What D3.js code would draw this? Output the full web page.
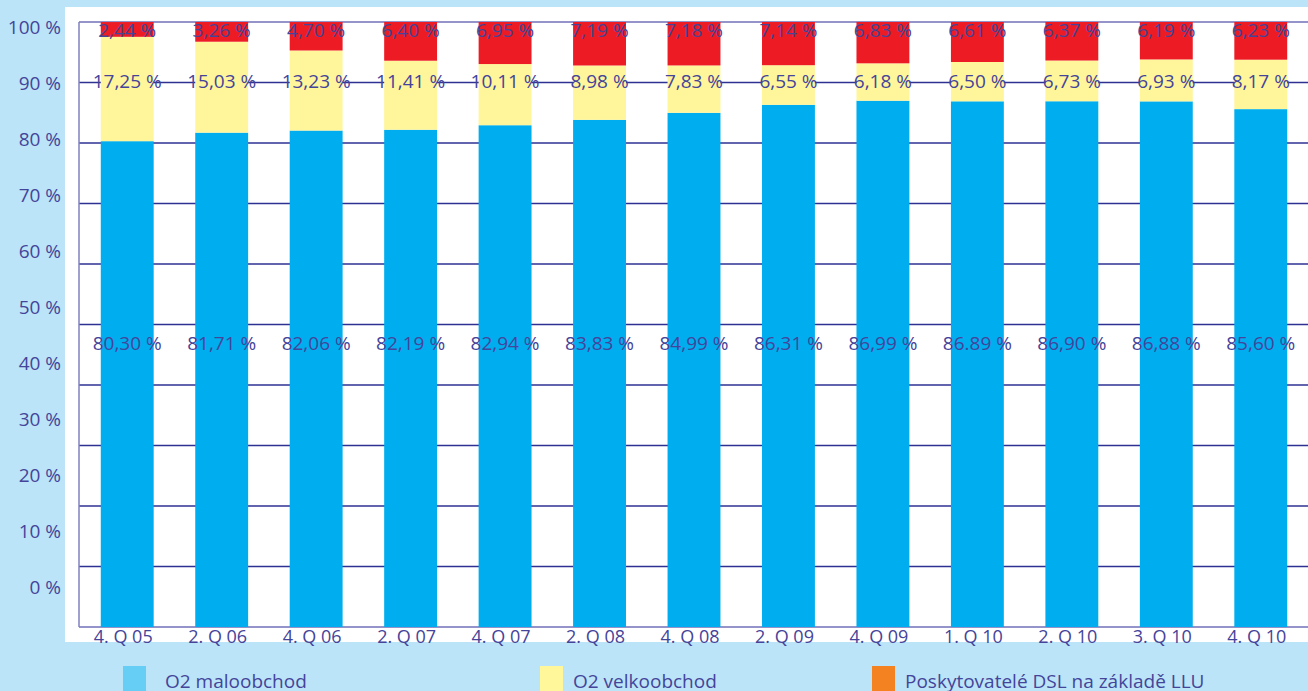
<!DOCTYPE html>
<html>
<head>
<meta charset="utf-8">
<script src="https://cdn.jsdelivr.net/npm/d3@7"></script>
<style>
  html, body { margin: 0; padding: 0; background: #bbe4f8; }
  text { font-family: "Open Sans", "Noto Sans", sans-serif; }
</style>
</head>
<body>
<svg id="chart"></svg>
<script>
// chart data
var categories = ['4. Q 05', '2. Q 06', '4. Q 06', '2. Q 07', '4. Q 07', '2. Q 08', '4. Q 08',
	'2. Q 09', '4. Q 09', '1. Q 10', '2. Q 10', '3. Q 10', '4. Q 10'];
var retail = [80.30, 81.71, 82.06, 82.19, 82.94, 83.83, 84.99, 86.31, 86.99, 86.89, 86.90, 86.88, 85.60];
var wholesale = [17.25, 15.03, 13.23, 11.41, 10.11, 8.98, 7.83, 6.55, 6.18, 6.50, 6.73, 6.93, 8.17];
var llu = [2.44, 3.26, 4.70, 6.40, 6.95, 7.19, 7.18, 7.14, 6.83, 6.61, 6.37, 6.19, 6.23];
var retailLabels = ['80,30 %', '81,71 %', '82,06 %', '82,19 %', '82,94 %', '83,83 %', '84,99 %',
	'86,31 %', '86,99 %', '86.89 %', '86,90 %', '86,88 %', '85,60 %'];
var tickLabels = ['100 %', '90 %', '80 %', '70 %', '60 %', '50 %', '40 %', '30 %', '20 %', '10 %', '0 %'];
var seriesNames = ['O2 maloobchod', 'O2 velkoobchod', 'Poskytovatelé DSL na základě LLU'];

// layout
var width = 1308,
	height = 691,
	plotLeft = 80,
	plotRight = 1308,
	plotTop = 22,
	plotBottom = 627,
	textColor = '#44449a',
	gridColor = '#2e3192';

var barColors = ['#00aeef', '#fff59a', '#ed1c24'],
	legendColors = ['#66cef5', '#fff799', '#f58220'];

var svg = d3.select('#chart')
	.attr('width', width)
	.attr('height', height);

svg.append('rect')
	.attr('width', width).attr('height', height)
	.attr('fill', '#bbe4f8');

// white panel
svg.append('rect')
	.attr('x', 65).attr('y', 7)
	.attr('width', width - 65).attr('height', 635)
	.attr('fill', '#ffffff');

var x = d3.scaleBand()
	.domain(categories)
	.range([plotLeft, plotRight])
	.paddingInner(0.44)
	.paddingOuter(0.22);

var y = d3.scaleLinear()
	.domain([0, 100])
	.range([plotBottom, plotTop]);

// tick labels sit on their own even spacing (as in the original)
var yLabel = d3.scaleLinear()
	.domain([100, 0])
	.range([34, 594]);

// gridlines 10..90
var grid = svg.append('g');
grid.selectAll('line')
	.data(d3.range(10, 100, 10))
	.enter().append('line')
		.attr('x1', plotLeft - 1).attr('x2', plotRight)
		.attr('y1', function(d) { return y(d); })
		.attr('y2', function(d) { return y(d); })
		.attr('stroke', gridColor)
		.attr('stroke-width', 1.3);

// frame: top, bottom and left
[100, 0].forEach(function(v) {
	svg.append('line')
		.attr('x1', plotLeft - 1).attr('x2', plotRight)
		.attr('y1', y(v)).attr('y2', y(v))
		.attr('stroke', '#7070b8').attr('stroke-width', 1.3);
});
svg.append('line')
	.attr('x1', plotLeft - 1).attr('x2', plotLeft - 1)
	.attr('y1', y(100)).attr('y2', plotBottom)
	.attr('stroke', '#8080c0').attr('stroke-width', 1.5);

// stacked data
var rows = categories.map(function(c, i) {
	return { cat: c, retail: retail[i], wholesale: wholesale[i], llu: llu[i] };
});
var stack = d3.stack().keys(['retail', 'wholesale', 'llu']);
var layers = stack(rows);

svg.append('g').selectAll('g')
	.data(layers)
	.enter().append('g')
		.attr('fill', function(d, i) { return barColors[i]; })
	.selectAll('rect')
	.data(function(d) { return d; })
	.enter().append('rect')
		.attr('x', function(d) { return x(d.data.cat); })
		.attr('width', x.bandwidth())
		.attr('y', function(d) { return y(Math.min(d[1], 100)); })
		.attr('height', function(d) { return y(d[0]) - y(Math.min(d[1], 100)); });

// value labels
var fmt = function(v) { return d3.format('.2f')(v).replace('.', ',') + ' %'; };
var labelRows = [
	{ y: 37, texts: llu.map(fmt) },
	{ y: 88, texts: wholesale.map(fmt) },
	{ y: 350, texts: retailLabels }
];
labelRows.forEach(function(row) {
	svg.append('g').selectAll('text')
		.data(row.texts)
		.enter().append('text')
			.attr('x', function(d, i) { return x(categories[i]) + x.bandwidth() / 2; })
			.attr('y', row.y)
			.attr('text-anchor', 'middle')
			.attr('font-size', 19)
			.attr('fill', textColor)
			.text(function(d) { return d; });
});

// y tick labels
svg.append('g').selectAll('text')
	.data(tickLabels)
	.enter().append('text')
		.attr('x', 61)
		.attr('y', function(d) { return yLabel(parseFloat(d)); })
		.attr('text-anchor', 'end')
		.attr('font-size', 19)
		.attr('fill', textColor)
		.text(function(d) { return d; });

// category labels
svg.append('g').selectAll('text')
	.data(categories)
	.enter().append('text')
		.attr('x', function(d) { return x(d) + x.bandwidth() / 2 - 4; })
		.attr('y', 643)
		.attr('text-anchor', 'middle')
		.attr('font-size', 18)
		.attr('fill', textColor)
		.text(function(d) { return d; });

// legend
var legendX = [123, 540, 872];
var legend = svg.append('g').selectAll('g')
	.data(seriesNames)
	.enter().append('g')
		.attr('transform', function(d, i) { return 'translate(' + legendX[i] + ',666)'; });
legend.append('rect')
	.attr('width', 23).attr('height', 25)
	.attr('fill', function(d, i) { return legendColors[i]; });
legend.append('text')
	.attr('x', function(d, i) { return i === 0 ? 42 : 33; })
	.attr('y', 22)
	.attr('font-size', 19)
	.attr('fill', textColor)
	.text(function(d) { return d; });
</script>
</body>
</html>
